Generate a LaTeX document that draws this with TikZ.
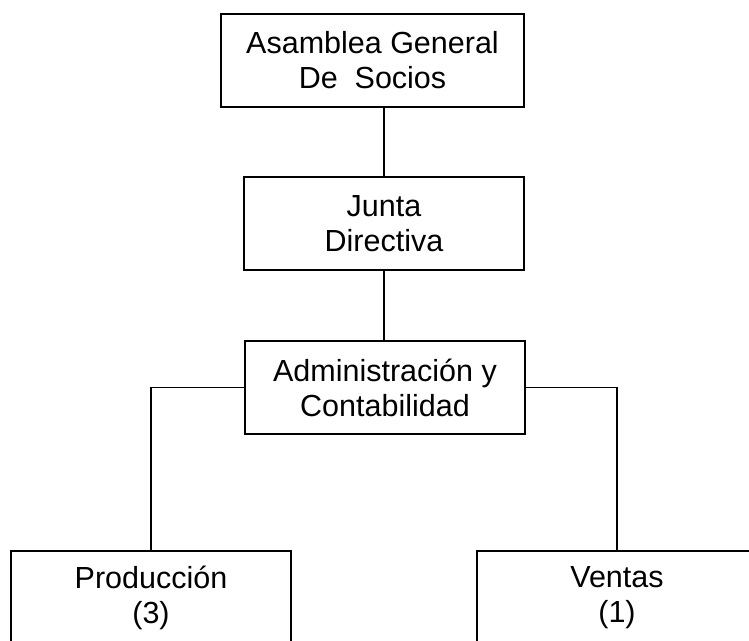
\documentclass[tikz,border=0pt]{standalone}
\usepackage{fontspec}
\setmainfont{Liberation Sans}
\begin{document}
\begin{tikzpicture}[x=1pt,y=-1pt,
  box/.style={draw=black, line width=1.6pt, fill=white, minimum width=280pt, minimum height=93pt,
    inner sep=0pt, align=center, font=\fontsize{30.5pt}{35pt}\selectfont},
  conn/.style={draw=black, line width=1.6pt}]
\useasboundingbox (0,0) rectangle (749,640);
\clip (0,0) rectangle (749,640);
\node[box, minimum width=303pt] (asam) at (372.5,60.5) {Asamblea General\\De~ Socios};
\node[box] (junta) at (384,223.5) {Junta\\ Directiva};
\node[box] (admin) at (385,387.5) {Administración y\\Contabilidad};
\node[box] (prod) at (151,597.5) {Producción\\(3)};
\node[box] (vent) at (617,597.5) {Ventas\\(1)};
\draw[conn] (asam.south -| junta.north) -- (junta.north);
\draw[conn] (junta.south) -- (admin.north -| junta.south);
\draw[conn] (admin.west) -| (prod.north);
\draw[conn] (admin.east) -| (vent.north);
\end{tikzpicture}
\end{document}
